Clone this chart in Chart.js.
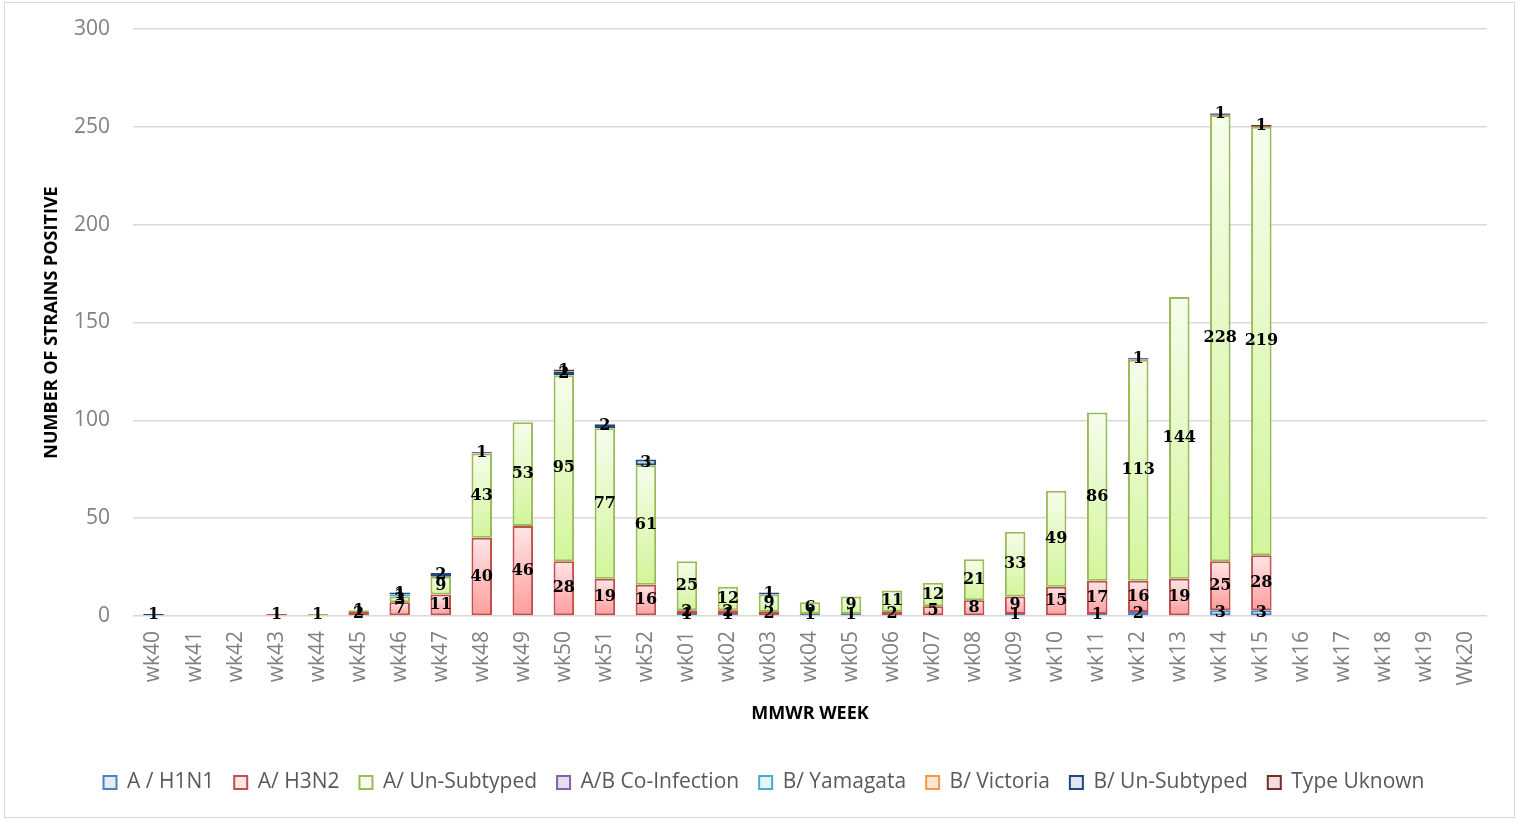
<!DOCTYPE html>
<html>
<head>
<meta charset="utf-8">
<script src="https://cdn.jsdelivr.net/npm/chart.js@4.4.1/dist/chart.umd.min.js"></script>
<style>
  html, body { margin: 0; padding: 0; background: #fff; }
  #wrap { position: absolute; left: 4px; top: 2px; width: 1511px; height: 816px; border: 1px solid #d9d9d9; box-sizing: border-box; }
  #grafik { display: block; }
</style>
</head>
<body>
<div id="wrap"><canvas id="grafik" width="1509" height="814"></canvas></div>
<script>
// minggu (sumbu x)
const weeks = ["wk40","wk41","wk42","wk43","wk44","wk45","wk46","wk47","wk48","wk49","wk50","wk51","wk52",
  "wk01","wk02","wk03","wk04","wk05","wk06","wk07","wk08","wk09","wk10","wk11","wk12","wk13","wk14","wk15",
  "wk16","wk17","wk18","wk19","Wk20"];

const seriesNames = ["A / H1N1", "A/ H3N2", "A/ Un-Subtyped", "A/B Co-Infection", "B/ Yamagata", "B/ Victoria", "B/ Un-Subtyped", "Type Uknown"];

// nilai per seri, urut sesuai weeks (0 = tidak ada)
const h1n1        = [0,0,0,0,0,0,0,0,0,0,0,0,0, 1,1,0,1,1,0,0,0,1,0,1,2,0,3,3, 0,0,0,0,0];
const h3n2        = [0,0,0,1,0,2,7,11,40,46,28,19,16, 2,2,2,0,0,2,5,8,9,15,17,16,19,25,28, 0,0,0,0,0];
const aUnsubtyped = [0,0,0,0,1,1,3,9,43,53,95,77,61, 25,12,9,6,9,11,12,21,33,49,86,113,144,228,219, 0,0,0,0,0];
const coInfection = [0,0,0,0,0,0,0,0,1,0,0,0,0, 0,0,0,0,0,0,0,0,0,0,0,1,0,1,0, 0,0,0,0,0];
const bYamagata   = [0,0,0,0,0,0,1,0,0,0,0,0,0, 0,0,0,0,0,0,0,0,0,0,0,0,0,0,0, 0,0,0,0,0];
const bVictoria   = [0,0,0,0,0,0,0,0,0,0,0,0,0, 0,0,0,0,0,0,0,0,0,0,0,0,0,0,0, 0,0,0,0,0];
const bUnsubtyped = [1,0,0,0,0,0,1,2,0,0,2,2,3, 0,0,1,0,0,0,0,0,0,0,0,0,0,0,0, 0,0,0,0,0];
const typeUnknown = [0,0,0,0,0,0,0,0,0,0,1,0,0, 0,0,0,0,0,0,0,0,0,0,0,0,0,0,1, 0,0,0,0,0];

const yTicks = [0, 50, 100, 150, 200, 250, 300];

const seriesData = [h1n1, h3n2, aUnsubtyped, coInfection, bYamagata, bVictoria, bUnsubtyped, typeUnknown];

// warna: garis tepi, gradasi atas, gradasi bawah
const borderColors = ["#4f81bd", "#c0504d", "#9bbb59", "#8064a2", "#4bacc6", "#f79646", "#1f497d", "#772c2a"];
const topColors    = ["#e3ebf7", "#ffe6e6", "#f6fdec", "#e6ddf1", "#e2f5fa", "#fde6d3", "#dfe6f0", "#f2dcdc"];
const bottomColors = ["#a4c0e8", "#ff9c9c", "#d2f59a", "#bba8d8", "#a8e2f2", "#fbb98a", "#a9b9d3", "#d29c9b"];

function gradasi(ctx, di) {
    const chart = ctx.chart;
    const y = chart.scales.y;
    const i = ctx.dataIndex;
    if (!y || i === undefined) return topColors[di];
    let base = 0;
    for (let k = 0; k < di; k++) base += seriesData[k][i];
    const top = base + seriesData[di][i];
    const y0 = y.getPixelForValue(top), y1 = y.getPixelForValue(base);
    if (!isFinite(y0) || !isFinite(y1) || y0 === y1) return topColors[di];
    const g = chart.ctx.createLinearGradient(0, y0, 0, y1);
    g.addColorStop(0, topColors[di]);
    g.addColorStop(1, bottomColors[di]);
    return g;
}

// label angka di tengah tiap segmen
const labelAngka = {
    id: 'labelAngka',
    afterDatasetsDraw(chart) {
        const ctx = chart.ctx;
        ctx.save();
        ctx.font = "bold 16px 'DejaVu Serif'";
        ctx.fillStyle = "#000";
        ctx.textAlign = "center";
        ctx.textBaseline = "middle";
        chart.data.datasets.forEach((ds, di) => {
            const meta = chart.getDatasetMeta(di);
            meta.data.forEach((bar, i) => {
                const v = ds.data[i];
                if (!v) return;
                ctx.fillText(String(v), bar.x, (bar.y + bar.base) / 2);
            });
        });
        ctx.restore();
    }
};

const datasets = seriesNames.map((name, di) => ({
    label: name,
    data: seriesData[di].map(v => v === 0 ? null : v),
    backgroundColor: ctx => gradasi(ctx, di),
    borderColor: borderColors[di],
    borderWidth: 2,
    borderSkipped: false,
    barPercentage: 0.5,
    categoryPercentage: 1.0
}));

new Chart(document.getElementById("grafik"), {
    type: "bar",
    data: { labels: weeks, datasets },
    plugins: [labelAngka],
    options: {
        responsive: false,
        animation: false,
        layout: { padding: { top: 26, right: 27, left: 36, bottom: 14 } },
        plugins: {
            tooltip: { enabled: false },
            legend: {
                position: "bottom",
                labels: {
                    font: { family: "'Open Sans'", size: 21 },
                    color: "#595959",
                    boxWidth: 13,
                    boxHeight: 13,
                    padding: 20,
                    generateLabels(chart) {
                        return seriesNames.map((name, di) => ({
                            text: name,
                            fillStyle: topColors[di],
                            strokeStyle: borderColors[di],
                            lineWidth: 2,
                            fontColor: "#595959",
                            datasetIndex: di,
                            hidden: false
                        }));
                    }
                }
            }
        },
        scales: {
            x: {
                stacked: true,
                grid: { display: false, drawTicks: false },
                border: { display: false },
                ticks: {
                    font: { family: "'Open Sans'", size: 21 },
                    color: "#808080",
                    minRotation: 90,
                    maxRotation: 90,
                    autoSkip: false,
                    padding: 15
                },
                title: {
                    display: true,
                    text: "MMWR WEEK",
                    font: { family: "'Open Sans'", size: 18, weight: "bold" },
                    color: "#000",
                    padding: { top: 0, bottom: 27 }
                },
                afterFit(scale) { scale.height = 136; }
            },
            y: {
                stacked: true,
                min: 0,
                max: 300,
                afterBuildTicks(scale) { scale.ticks = yTicks.map(v => ({ value: v })); },
                grid: { color: "#d9d9d9", lineWidth: 1.5, drawTicks: true, tickLength: 20, tickColor: "transparent" },
                border: { display: false },
                ticks: {
                    font: { family: "'Open Sans'", size: 21 },
                    color: "#808080",
                    padding: 3
                },
                title: {
                    display: true,
                    text: "NUMBER OF STRAINS POSITIVE",
                    font: { family: "'Open Sans'", size: 18, weight: "bold" },
                    color: "#000",
                    padding: { top: 0, bottom: 0 }
                },
                afterFit(scale) { scale.width = 92; }
            }
        }
    }
});
</script>
</body>
</html>
